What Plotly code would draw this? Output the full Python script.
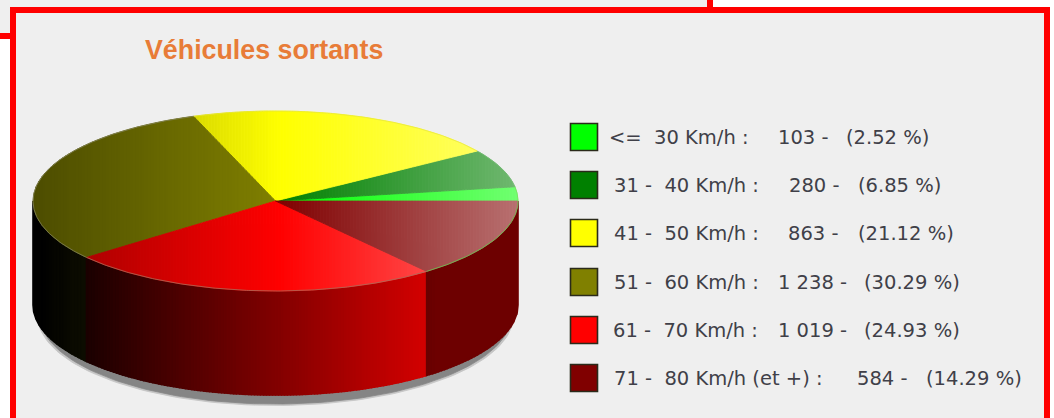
import math
import plotly.graph_objects as go

TITLE = "Véhicules sortants"
categories = ["<=  30 Km/h", "31 -  40 Km/h", "41 -  50 Km/h", "51 -  60 Km/h", "61 -  70 Km/h", "71 -  80 Km/h (et +)"]
counts = [103, 280, 863, 1238, 1019, 584]
count_labels = ["103", "280", "863", "1 238", "1 019", "584"]
percents = ["2.52", "6.85", "21.12", "30.29", "24.93", "14.29"]
colors = [(0, 255, 0), (0, 128, 0), (255, 255, 0), (128, 128, 0), (255, 0, 0), (128, 0, 0)]

# pie geometry on a pixel-like axis
CX, CY, RX, RY, DEPTH = 275.5, 201.0, 242.5, 90.0, 104.0
BAND = 3.0


def rgb(c):
    return "rgb(%d,%d,%d)" % tuple(max(0, min(255, round(v))) for v in c)


def top_shade(c, x):
    if x < CX + 5:
        m = 0.6 + 0.4 * (x - 33) / (CX + 5 - 33)
        return tuple(v * m for v in c)
    w = 0.44 * (x - CX - 5) / (518 - CX - 5)
    return tuple(v + (255 - v) * w for v in c)


def side_shade(c, x):
    m = min(0.85, max(0.0, (x - 38) / 470))
    return tuple(v * m for v in c)


def clip(poly, lo, hi):
    def half(points, inside, cross):
        out = []
        for i, p in enumerate(points):
            q = points[(i + 1) % len(points)]
            if inside(p):
                out.append(p)
            if inside(p) != inside(q):
                t = (cross - p[0]) / (q[0] - p[0])
                out.append((cross, p[1] + t * (q[1] - p[1])))
        return out
    poly = half(poly, lambda p: p[0] >= lo, lo)
    if poly:
        poly = half(poly, lambda p: p[0] <= hi, hi)
    return poly


def pt(a, dy=0.0):
    return (CX + RX * math.cos(a), CY - RY * math.sin(a) + dy)


def arc(a0, a1, dy=0.0):
    n = max(2, int(abs(a1 - a0) / 0.01))
    return [pt(a0 + (a1 - a0) * i / n, dy) for i in range(n + 1)]


def add_poly(fig, poly, color, line=0.8):
    xs = [p[0] for p in poly] + [poly[0][0]]
    ys = [p[1] for p in poly] + [poly[0][1]]
    fig.add_trace(go.Scatter(x=xs, y=ys, mode="lines", fill="toself", fillcolor=color,
                             line=dict(color=color, width=line), hoverinfo="skip", showlegend=False))


total = sum(counts)
edges = [0.0]
for v in counts:
    edges.append(edges[-1] + 2 * math.pi * v / total)

fig = go.Figure()

# soft ground shadow
for grow, col in ((1.5, "#c4c4c4"), (0.0, "#858585")):
    add_poly(fig, [(CX + (RX - 6 + grow) * math.cos(a / 100 * math.pi),
                    CY + DEPTH + 9 + grow + RY * math.sin(a / 100 * math.pi)) for a in range(200)], col)

# side walls of the front half
for i, c in enumerate(colors):
    a0, a1 = max(edges[i], math.pi), max(edges[i + 1], math.pi)
    if a1 <= a0:
        continue
    upper = arc(a0, a1)
    wall = upper + [(p[0], p[1] + DEPTH) for p in reversed(upper)]
    xmin, xmax = min(p[0] for p in wall), max(p[0] for p in wall)
    x = xmin
    while x < xmax:
        piece = clip(wall, x, min(x + BAND, xmax))
        if len(piece) > 2:
            add_poly(fig, piece, rgb(side_shade(c, x + BAND / 2)), line=1.6)
        x += BAND

# top face
for i, c in enumerate(colors):
    sector = [(CX, CY)] + arc(edges[i], edges[i + 1])
    xmin, xmax = min(p[0] for p in sector), max(p[0] for p in sector)
    x = xmin
    while x < xmax:
        piece = clip(sector, x, min(x + BAND, xmax))
        if len(piece) > 2:
            add_poly(fig, piece, rgb(top_shade(c, x + BAND / 2)))
        x += BAND

# thin rim of the top face
rims = ["rgba(120,220,90,.7)", "rgba(120,190,120,.7)", "rgba(230,230,60,.7)",
        "rgba(130,130,90,.8)", "rgba(170,110,90,.8)", "rgba(110,190,80,.9)"]
for i, col in enumerate(rims):
    p = arc(edges[i], edges[i + 1])
    fig.add_trace(go.Scatter(x=[q[0] for q in p], y=[q[1] for q in p], mode="lines",
                             line=dict(color=col, width=1), hoverinfo="skip", showlegend=False))

# legend
row_y = [137, 185, 233, 282, 330, 378]
label_x = [609, 614, 614, 614, 613, 614]
count_x = [778, 789, 788, 778, 778, 857]
pct_x = [846, 858, 858, 864, 864, 926]
fig.add_trace(go.Scatter(x=[584] * 6, y=row_y, mode="markers", hoverinfo="skip", showlegend=False,
                         marker=dict(symbol="square", size=27, color=[rgb(c) for c in colors],
                                     line=dict(color="#2a2a1a", width=1.6))))
NB = "\u00a0"
annotations = [dict(x=263.5, y=50, text="<b>%s</b>" % TITLE, showarrow=False, xanchor="center", yanchor="middle",
                    font=dict(family="Liberation Sans", size=26.8, color="#e87c38"))]
font = dict(family="DejaVu Sans", size=19.5, color="#404048")
for i in range(6):
    parts = [(label_x[i], categories[i] + " :"), (count_x[i], count_labels[i] + " -"),
             (pct_x[i], "(%s %%)" % percents[i])]
    for x, s in parts:
        annotations.append(dict(x=x, y=row_y[i], text=s.replace(" ", NB), showarrow=False,
                                xanchor="left", yanchor="middle", xshift=-2, font=font))

red = "#ff0000"
panel = "#efefef"
def rect(x0, y0, x1, y1, color):
    return dict(type="rect", x0=x0, y0=y0, x1=x1, y1=y1, fillcolor=color, line=dict(width=0), layer="below")

shapes = [
    rect(0, 0, 707, 33, panel),
    rect(707, 0, 713, 7, red),
    rect(0, 33, 16, 39, red),
    rect(10, 7, 1050, 418, red),
    rect(16, 13, 1044, 418, panel),
]

fig.update_layout(
    width=1054, height=418, margin=dict(l=0, r=0, t=0, b=0),
    paper_bgcolor="white", plot_bgcolor="white", showlegend=False,
    xaxis=dict(range=[0, 1054], visible=False, fixedrange=True),
    yaxis=dict(range=[418, 0], visible=False, fixedrange=True),
    shapes=shapes, annotations=annotations,
)
fig.write_html("out.html", config=dict(displayModeBar=False),
               post_script="document.body.style.margin='0';")
